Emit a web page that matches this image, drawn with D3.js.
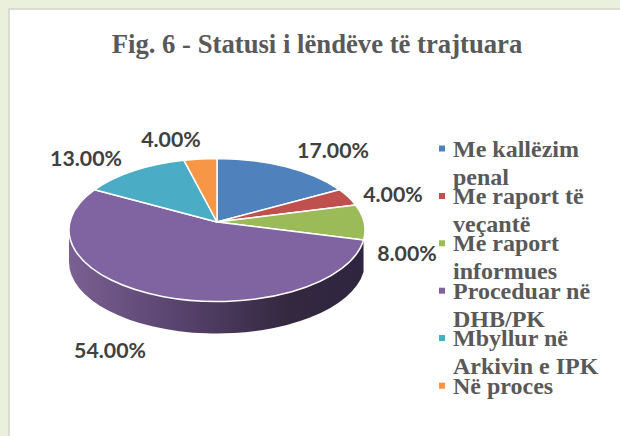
<!DOCTYPE html>
<html><head><meta charset="utf-8">
<script src="https://cdn.jsdelivr.net/npm/d3@7/dist/d3.min.js"></script>
<style>html,body{margin:0;padding:0;background:#fff}svg{display:block}</style>
</head><body><svg id="c" width="620" height="436"></svg>
<script>
const title = "Fig. 6 - Statusi i lëndëve të trajtuara";
const categories = ["Me kallëzim penal","Me raport të veçantë","Me raport informues","Proceduar në DHB/PK","Mbyllur në Arkivin e IPK","Në proces"];
const legendLines = [["Me kallëzim","penal"],["Me raport të","veçantë"],["Me raport","informues"],["Proceduar në","DHB/PK"],["Mbyllur në","Arkivin e IPK"],["Në proces"]];
const values = [17,4,8,54,13,4];
const colors = ["#4f81bd","#c0504d","#9bbb59","#8064a2","#4bacc6","#f79646"];
const labelPos = [[333,158],[393,202],[407,261],[110,357.5],[86,166],[171,147]];
const legendY = [148.5,196,243.3,290.7,338,385.7];

const svg = d3.select("#c");
svg.append("rect").attr("width",620).attr("height",436).attr("fill","#e9f1dd");
svg.append("rect").attr("x",9).attr("y",9).attr("width",620).attr("height",436).attr("fill","#fff").attr("stroke","#d9dcd4").attr("stroke-width",2);
svg.append("text").attr("x",317).attr("y",53).attr("text-anchor","middle")
  .attr("font-family","Liberation Serif").attr("font-weight","bold").attr("font-size",26.7).attr("fill","#595959").text(title);

const cx=217, cy=230, apexY=222, rx=148, ry=71.5, depth=32;
const k=(apexY-cy)/ry, kn=Math.sqrt(1-k*k);
const pie = d3.pie().sort(null).value(d=>d);
const arcs = pie(values);
// perspective mapping of a circle: rim points crowd towards the far side
const pt = a => {
  const x=Math.sin(a), y=-Math.cos(a), w=1+k*y;
  return [cx+rx*x*kn/w, cy+ry*(y+k)/w];
};

const defs = svg.append("defs");
const g = defs.append("linearGradient").attr("id","side").attr("x1","0").attr("x2","1").attr("y1","0").attr("y2","0");
[[0,"#7a6093"],[0.35,"#5a4470"],[0.75,"#33283f"],[1,"#2f2540"]].forEach(s=>g.append("stop").attr("offset",s[0]).attr("stop-color",s[1]));

const rA = pt(arcs[3].startAngle), lA = [cx-rx,cy];
svg.append("path")
  .attr("d",`M${rA[0]},${rA[1]} A${rx},${ry} 0 0 1 ${lA[0]},${lA[1]} L${lA[0]},${lA[1]+depth} A${rx},${ry} 0 0 0 ${rA[0]},${rA[1]+depth} Z`)
  .attr("fill","url(#side)");

svg.append("g").selectAll("path").data(arcs).join("path")
  .attr("d",d=>{
    const p0=pt(d.startAngle), p1=pt(d.endAngle);
    const large=(d.endAngle-d.startAngle)>Math.PI?1:0;
    return `M${cx},${apexY} L${p0[0]},${p0[1]} A${rx},${ry} 0 ${large} 1 ${p1[0]},${p1[1]} Z`;
  })
  .attr("fill",(d,i)=>colors[i]).attr("stroke","#fff").attr("stroke-width",1.5).attr("stroke-linejoin","round");

svg.append("g").selectAll("text").data(values).join("text")
  .attr("x",(d,i)=>labelPos[i][0]).attr("y",(d,i)=>labelPos[i][1])
  .attr("text-anchor","middle").attr("font-family","Lato").attr("font-weight","bold").attr("font-size",21.3)
  .attr("fill","#404040").text(d=>d.toFixed(2)+"%");

const lg = svg.append("g").selectAll("g").data(legendLines).join("g");
lg.append("rect").attr("x",439).attr("y",(d,i)=>legendY[i]-3).attr("width",6).attr("height",6).attr("fill",(d,i)=>colors[i]);
lg.append("text").attr("font-family","Liberation Serif").attr("font-weight","bold").attr("font-size",24).attr("fill","#595959")
  .each(function(d,i){
    d3.select(this).selectAll("tspan").data(d).join("tspan")
      .attr("x",453).attr("y",(t,k)=>legendY[i]+8+k*28).text(t=>t);
  });
</script></body></html>
